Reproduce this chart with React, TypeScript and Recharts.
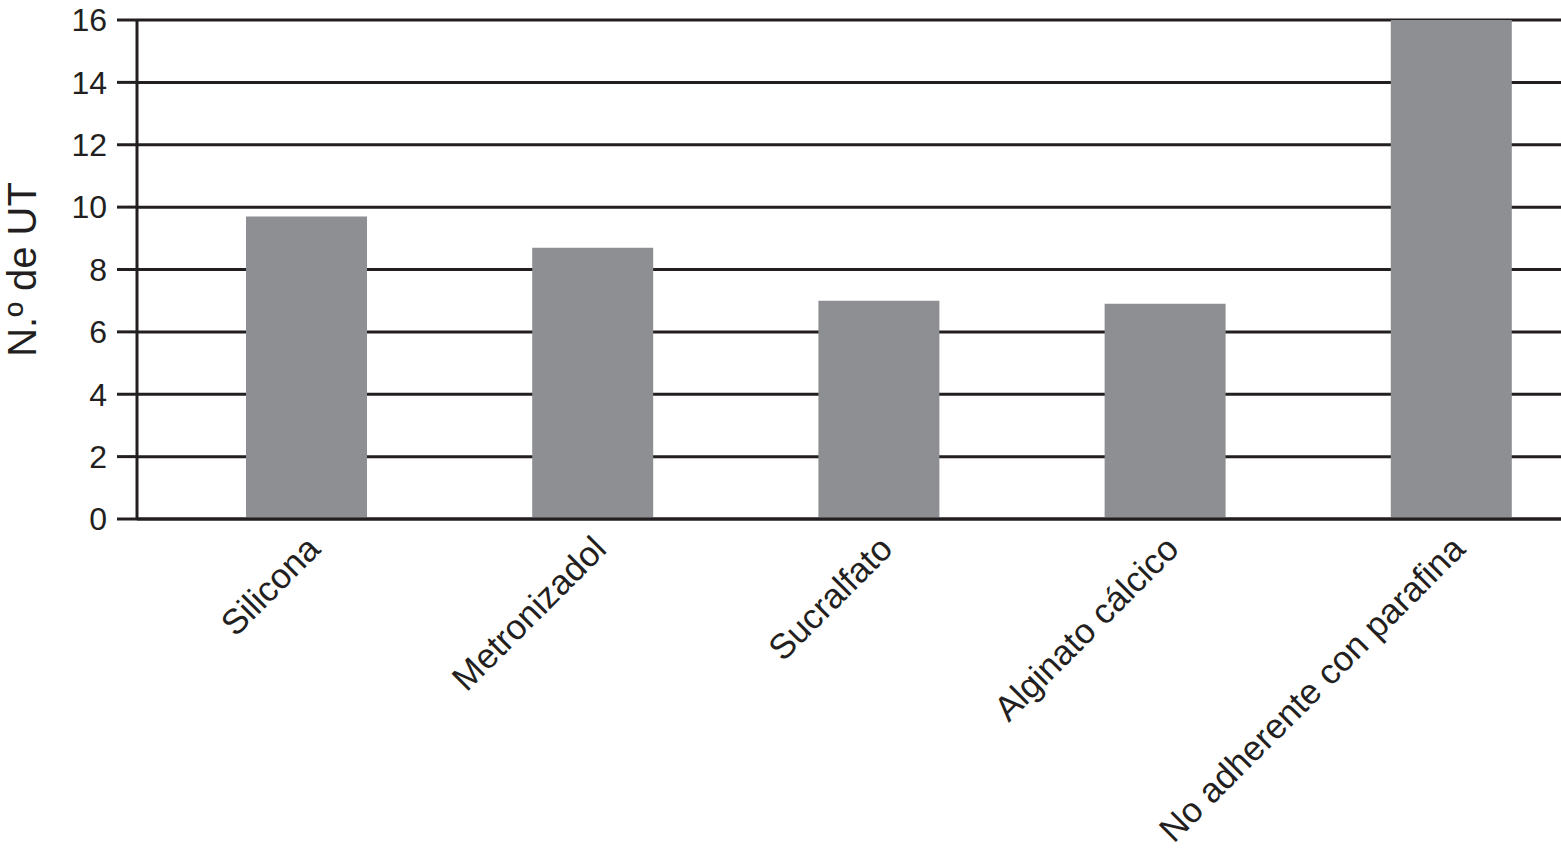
import React from "react";
import {
  BarChart,
  Bar,
  XAxis,
  YAxis,
  CartesianGrid,
  Label,
} from "recharts";

// Apósitos evaluados
const treatments = [
  "Silicona",
  "Metronizadol",
  "Sucralfato",
  "Alginato cálcico",
  "No adherente con parafina",
];

// N.º de UT por apósito
const utCounts = [9.7, 8.7, 7.0, 6.9, 16];

const yTicks = [0, 2, 4, 6, 8, 10, 12, 14, 16];

const data = treatments.map((name, i) => ({ name, ut: utCounts[i] }));

const INK = "#231f20";
const FONT = "'Liberation Sans', Arial, Helvetica, sans-serif";

function CategoryTick(props: any) {
  const { x, y, payload } = props;
  const ax = x + 16;
  const ay = y + 24;
  return (
    <text
      x={ax}
      y={ay}
      transform={`rotate(-45, ${ax}, ${ay})`}
      textAnchor="end"
      fontFamily={FONT}
      fontSize={35}
      fill={INK}
    >
      {payload.value}
    </text>
  );
}

function YTitle(props: any) {
  const { viewBox } = props;
  const cx = 36;
  const cy = viewBox.y + viewBox.height / 2;
  return (
    <text
      x={cx}
      y={cy}
      transform={`rotate(-90, ${cx}, ${cy})`}
      textAnchor="middle"
      fontFamily={FONT}
      fontSize={40}
      fill={INK}
    >
      N.º de UT
    </text>
  );
}

export default function App() {
  return (
    <div
      style={{
        position: "absolute",
        left: 0,
        top: 0,
        width: 1561,
        height: 848,
        overflow: "hidden",
        background: "#fff",
      }}
    >
      <BarChart
        width={1600}
        height={848}
        data={data}
        margin={{ top: 20, right: 6, left: 0, bottom: 0 }}
      >
        <CartesianGrid
          vertical={false}
          stroke={INK}
          strokeWidth={3}
          strokeDasharray=""
        />
        <XAxis
          dataKey="name"
          height={329}
          interval={0}
          padding={{ left: 26, right: 0 }}
          tickLine={false}
          axisLine={{ stroke: INK, strokeWidth: 3 }}
          tick={<CategoryTick />}
        />
        <YAxis
          width={137}
          domain={[0, 16]}
          ticks={yTicks}
          interval={0}
          tickSize={20}
          tickMargin={10}
          tickLine={{ stroke: INK, strokeWidth: 3 }}
          axisLine={{ stroke: INK, strokeWidth: 3 }}
          tick={{ fill: INK, fontSize: 32, fontFamily: FONT }}
        >
          <Label content={<YTitle />} />
        </YAxis>
        <Bar
          dataKey="ut"
          fill="#8e8f92"
          barSize={121}
          isAnimationActive={false}
        />
      </BarChart>
    </div>
  );
}
